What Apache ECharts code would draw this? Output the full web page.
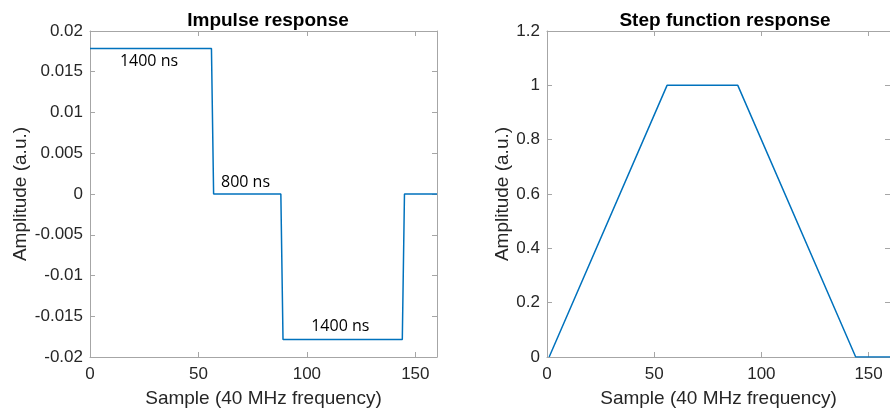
<!DOCTYPE html>
<html><head><meta charset="utf-8">
<script src="https://cdn.jsdelivr.net/npm/echarts@6/dist/echarts.min.js"></script>
<style>html,body{margin:0;padding:0;background:#fff}#c{width:890px;height:413px}</style>
</head><body><div id="c"></div>
<script>
const v = 1 / 56;
const impulseX = [0, 56, 57, 88, 89, 144, 145, 160];
const impulseY = [v, v, 0, 0, -v, -v, 0, 0];
const stepX = [1, 56, 89, 144, 160];
const stepY = [0, 1, 1, 0, 0];
const annotations = [
  { text: '1400 ns', x: 27.2, y: 0.0163 },
  { text: '800 ns', x: 71.7, y: 0.0014 },
  { text: '1400 ns', x: 115.4, y: -0.0163 }
];
const titles = ['Impulse response', 'Step function response'];
const xName = 'Sample (40 MHz frequency)';
const yName = 'Amplitude (a.u.)';

const FONT = 'Liberation Sans, Arial, sans-serif';
const GRAY = '#a6a6a6';
const TXT = '#262626';
const BLUE = '#0072BD';

function fmt(val) { return String(parseFloat(val.toFixed(4))); }

function xAxes(g) {
  return [{
    type: 'value', gridIndex: g, min: 0, max: 160, interval: 50,
    name: xName, nameLocation: 'middle', nameGap: 32,
    nameTextStyle: { fontFamily: FONT, fontSize: 19, color: TXT },
    axisLine: { show: true, onZero: false, lineStyle: { color: GRAY, width: 1 } },
    axisTick: { show: true, inside: true, length: 5, lineStyle: { color: GRAY } },
    axisLabel: { fontFamily: FONT, fontSize: 17, color: TXT, margin: 9, showMaxLabel: false },
    splitLine: { show: false }
  }, {
    type: 'value', gridIndex: g, position: 'top', min: 0, max: 160, interval: 50,
    axisLine: { show: true, onZero: false, lineStyle: { color: GRAY, width: 1 } },
    axisTick: { show: true, inside: true, length: 5, lineStyle: { color: GRAY } },
    axisLabel: { show: false }, splitLine: { show: false }
  }];
}
function yAxes(g, min, max, interval) {
  return [{
    type: 'value', gridIndex: g, min: min, max: max, interval: interval,
    name: yName, nameLocation: 'middle', nameGap: g === 0 ? 60 : 35,
    nameTextStyle: { fontFamily: FONT, fontSize: 19, color: TXT },
    axisLine: { show: true, onZero: false, lineStyle: { color: GRAY, width: 1 } },
    axisTick: { show: true, inside: true, length: 5, lineStyle: { color: GRAY } },
    axisLabel: { fontFamily: FONT, fontSize: 17, color: TXT, margin: 7, formatter: fmt },
    splitLine: { show: false }
  }, {
    type: 'value', gridIndex: g, position: 'right', min: min, max: max, interval: interval,
    axisLine: { show: true, onZero: false, lineStyle: { color: GRAY, width: 1 } },
    axisTick: { show: true, inside: true, length: 5, lineStyle: { color: GRAY } },
    axisLabel: { show: false }, splitLine: { show: false }
  }];
}

const chart = echarts.init(document.getElementById('c'), null, { renderer: 'canvas' });
chart.setOption({
  animation: false,
  title: [
    { text: titles[0], left: 263, top: 6, textAlign: 'center',
      textStyle: { fontFamily: FONT, fontSize: 19, fontWeight: 'bold', color: '#000' } },
    { text: titles[1], left: 720, top: 6, textAlign: 'center',
      textStyle: { fontFamily: FONT, fontSize: 19, fontWeight: 'bold', color: '#000' } }
  ],
  grid: [
    { left: 90, top: 31, width: 347, height: 327 },
    { left: 547, top: 31, width: 348, height: 327 }
  ],
  xAxis: [...xAxes(0), ...xAxes(1)],
  yAxis: [...yAxes(0, -0.02, 0.02, 0.005), ...yAxes(1, 0, 1.2, 0.2)],
  series: [
    {
      type: 'line', xAxisIndex: 0, yAxisIndex: 0, symbol: 'none',
      lineStyle: { color: BLUE, width: 1.5 },
      data: impulseX.map((x, i) => [x, impulseY[i]]),
      markPoint: {
        symbol: 'circle', symbolSize: 0, silent: true,
        label: { show: true, position: 'inside', fontFamily: 'Open Sans, Noto Sans, sans-serif', fontSize: 16, color: '#000',
          formatter: p => p.name },
        data: annotations.map(a => ({ name: a.text, coord: [a.x, a.y] }))
      }
    },
    {
      type: 'line', xAxisIndex: 2, yAxisIndex: 2, symbol: 'none',
      lineStyle: { color: BLUE, width: 1.5 },
      data: stepX.map((x, i) => [x, stepY[i]])
    }
  ]
});
</script></body></html>
